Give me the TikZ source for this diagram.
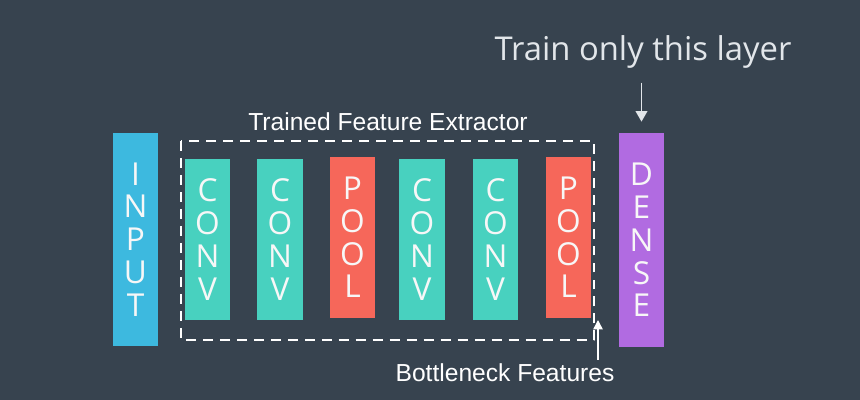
\documentclass[tikz,border=0pt]{standalone}
\usepackage{fontspec}
\setmainfont{Open Sans}
\newfontfamily\helvfont{Liberation Sans}
\usetikzlibrary{arrows.meta}
\definecolor{bgcol}{HTML}{37434F}
\definecolor{inputcol}{HTML}{3DB9DF}
\definecolor{convcol}{HTML}{48D1BF}
\definecolor{poolcol}{HTML}{F6675A}
\definecolor{densecol}{HTML}{B16BE1}
\definecolor{labelcol}{HTML}{E2E6EA}
\tikzset{
  layer/.style={rectangle, minimum width=1.36cm, inner sep=0pt, align=center,
    text=white!94!gray, font=\fontsize{27}{28}\selectfont},
  convlayer/.style={layer, fill=convcol, minimum height=4.83cm},
  poollayer/.style={layer, fill=poolcol, minimum height=4.83cm},
  biglayer/.style={layer, minimum height=6.39cm},
  boxlabel/.style={text=white, font=\helvfont\fontsize{21}{25}\selectfont, inner sep=0pt}
}
\begin{document}
\begin{tikzpicture}[x=0.03cm, y=-0.03cm, >={Triangle[length=9pt,width=10pt]}, line join=round]
\fill[bgcol] (0,0) rectangle (860,400);
\useasboundingbox (0,0) rectangle (860,400);
% layers
\node[biglayer, fill=inputcol] (input) at (135.5,239.5) {I\\N\\P\\U\\T};
\node[convlayer] (conva) at (207.5,239.5) {C\\O\\N\\V};
\node[convlayer] (convb) at (280,239.5) {C\\O\\N\\V};
\node[poollayer] (poola) at (352.5,237.5) {P\\O\\O\\L};
\node[convlayer] (convc) at (422,239.5) {C\\O\\N\\V};
\node[convlayer] (convd) at (495.5,239.5) {C\\O\\N\\V};
\node[poollayer] (poolb) at (568.5,237.5) {P\\O\\O\\L};
\node[biglayer, fill=densecol] (dense) at (641.5,240) {D\\E\\N\\S\\E};
% feature extractor box
\draw[white, line width=1.7pt, dash pattern=on 8.5pt off 6pt] (181,141) rectangle (594,340);
\node[boxlabel] (extractor) at (388,122) {Trained Feature Extractor};
% labels and arrows
\node[text=labelcol, font=\fontsize{28}{32}\selectfont, inner sep=0pt] (train) at (643,52) {Train only this layer};
\draw[->, labelcol, line width=1.2pt] (dense.north |- train.south) ++(0,14) -- ++(0,39);
\node[boxlabel] (bottleneck) at (505,373) {Bottleneck Features};
\coordinate (bnend) at (598,320);
\draw[-{Triangle[length=8pt,width=8pt]}, white, line width=1.2pt] (bnend |- bottleneck.north) ++(0,-4) -- (bnend);
\end{tikzpicture}
\end{document}
